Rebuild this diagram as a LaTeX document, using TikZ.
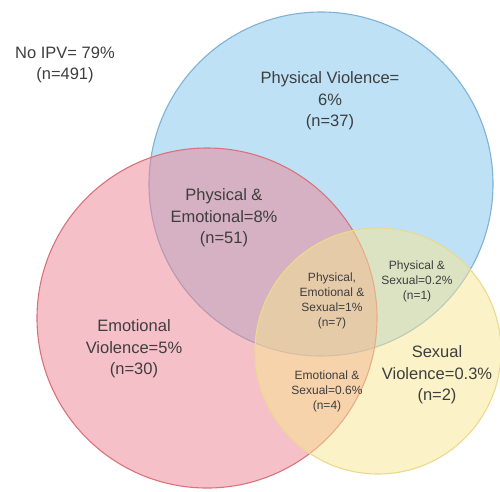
\documentclass[tikz,border=0pt]{standalone}
\usepackage{fontspec}
\setmainfont{Liberation Sans}
\usepackage{tikz}
\definecolor{physblue}{HTML}{7EC3EE}
\definecolor{physline}{HTML}{7FB2D6}
\definecolor{emored}{HTML}{EE8292}
\definecolor{emoline}{HTML}{D8737C}
\definecolor{sexyellow}{HTML}{F8E690}
\definecolor{sexline}{HTML}{EADA8C}
\definecolor{labelgrey}{HTML}{3E3E3E}
\tikzset{
  setfill/.style={fill=#1, fill opacity=0.5, draw opacity=1, line width=1.1pt},
  biglabel/.style={align=center, text=labelgrey, font=\fontsize{16.5}{21.5}\selectfont},
  smalllabel/.style={align=center, text=labelgrey, font=\fontsize{12}{15}\selectfont}
}

\begin{document}
\begin{tikzpicture}[x=1pt, y=-1pt]
    \useasboundingbox (0,0) rectangle (500,491);

    % Set centres
    \coordinate (P) at (321,184);
    \coordinate (E) at (207,318);
    \coordinate (S) at (378,351);

    % Sets
    \draw[setfill=physblue, draw=physline] (P) circle (172);
    \draw[setfill=emored, draw=emoline] (E) circle (170);
    \draw[setfill=sexyellow, draw=sexline] (S) circle (123);

    % Labels
    \node[biglabel] (none) at (65,65) {No IPV= 79\%\\(n=491)};
    \node[biglabel] (phys) at (330,101) {Physical Violence=\\6\%\\(n=37)};
    \node[biglabel] (physemo) at (224,218) {Physical \&\\Emotional=8\%\\(n=51)};
    \node[biglabel] (emo) at (134,349) {Emotional\\Violence=5\%\\(n=30)};
    \node[biglabel] (sex) at (437,375) {Sexual\\Violence=0.3\%\\(n=2)};

    \node[smalllabel] (all) at (332,301) {Physical,\\Emotional \&\\Sexual=1\%\\(n=7)};
    \node[smalllabel] (physsex) at (417,281) {Physical \&\\Sexual=0.2\%\\(n=1)};
    \node[smalllabel] (emosex) at (327,391) {Emotional \&\\Sexual=0.6\%\\(n=4)};

\end{tikzpicture}
\end{document}
